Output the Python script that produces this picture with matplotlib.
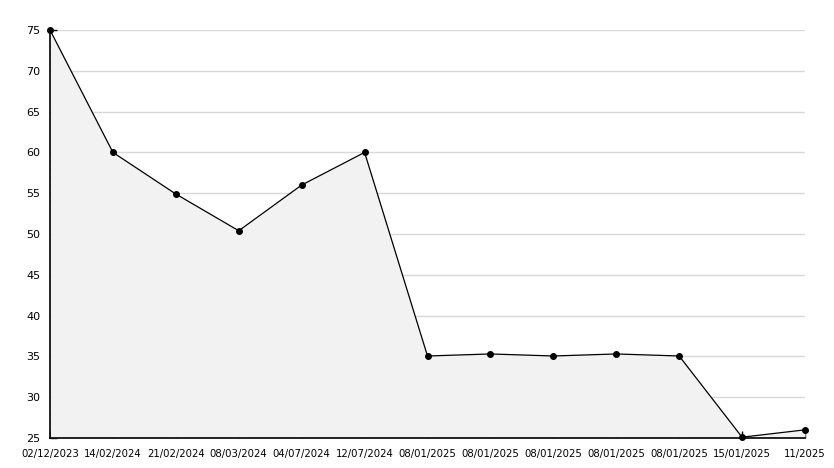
import matplotlib
matplotlib.use("Agg")
import matplotlib.pyplot as plt
from matplotlib.ticker import MultipleLocator

labels = ["02/12/2023", "14/02/2024", "21/02/2024", "08/03/2024", "04/07/2024",
          "12/07/2024", "08/01/2025", "08/01/2025", "08/01/2025", "08/01/2025",
          "08/01/2025", "15/01/2025", "11/2025"]
values = [75, 60, 54.9, 50.4, 56, 60, 35.05, 35.3, 35.05, 35.3, 35.05, 25.1, 26]

x = list(range(len(values)))

fig = plt.figure(figsize=(8.34, 4.68), dpi=100)
ax = fig.add_axes([50/834, 30/468, 755/834, 408/468])

ax.fill_between(x, values, 25, color="#f2f2f2", zorder=1, linewidth=0)
ax.plot(x, values, color="black", linewidth=0.9, marker="o", markersize=4,
        markerfacecolor="black", markeredgecolor="black", zorder=3, clip_on=False)

ax.set_xlim(0, len(values) - 1)
ax.set_ylim(25, 75)
ax.yaxis.set_major_locator(MultipleLocator(5))
ax.yaxis.set_minor_locator(MultipleLocator(1))
ax.grid(axis="y", color="#d9d9d9", linewidth=1, zorder=0)
ax.set_axisbelow(True)

ax.set_xticks(x)
ax.set_xticklabels(labels)
for sp in ["top", "right"]:
    ax.spines[sp].set_visible(False)
for sp in ["left", "bottom"]:
    ax.spines[sp].set_color("black")
    ax.spines[sp].set_linewidth(1.2)

ax.tick_params(axis="x", direction="in", length=5, width=1, labelsize=7.3, pad=8)
ax.tick_params(axis="y", which="major", direction="in", length=5, width=1, labelsize=8, pad=7)
ax.tick_params(axis="y", which="minor", direction="in", length=3, width=1)

fig.savefig("out.png", dpi=100, facecolor="white")
